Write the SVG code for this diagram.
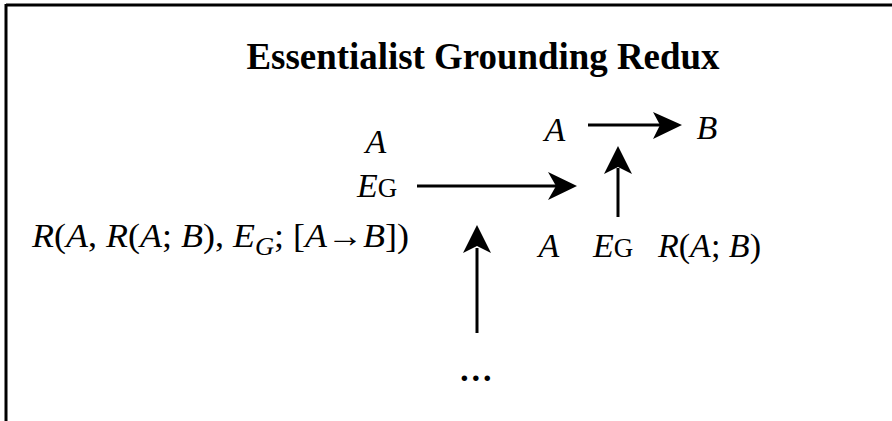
<svg xmlns="http://www.w3.org/2000/svg" width="892" height="421" viewBox="0 0 892 421">
<style>
.m{font-family:"Liberation Serif","Times New Roman",serif;font-size:34px;fill:#000}
.i{font-style:italic}
.sc{font-size:27px;font-style:normal}
.ttl{font-family:"Liberation Serif","Times New Roman",serif;font-size:38px;font-weight:bold;fill:#000}
.ln{stroke:#000;stroke-width:3;fill:none}
.hd{fill:#000}
</style>
<rect width="892" height="421" fill="#fff"/>
<g id="frame">
<line x1="6" y1="5" x2="892" y2="5" stroke="#000" stroke-width="3"/>
<line x1="6" y1="4" x2="6" y2="421" stroke="#000" stroke-width="3"/>
</g>
<g id="title">
<text class="ttl" x="483" y="69" text-anchor="middle" textLength="473" lengthAdjust="spacingAndGlyphs">Essentialist Grounding Redux</text>
</g>
<g id="node-left-A"><text class="m i" x="376" y="153" text-anchor="middle">A</text></g>
<g id="node-left-EG"><text class="m" x="357" y="197"><tspan class="i">E</tspan><tspan class="sc">G</tspan></text></g>
<g id="node-left-R">
<text class="m" x="32" y="247" font-size="35" textLength="377" lengthAdjust="spacingAndGlyphs"><tspan class="i">R</tspan>(<tspan class="i">A</tspan>, <tspan class="i">R</tspan>(<tspan class="i">A</tspan>; <tspan class="i">B</tspan>), <tspan class="i">E</tspan><tspan class="i" font-size="25" dy="8">G</tspan><tspan dy="-8">; [</tspan><tspan class="i">A</tspan>→<tspan class="i">B</tspan>])</text>
</g>
<g id="node-top-A"><text class="m i" x="555" y="141" text-anchor="middle">A</text></g>
<g id="node-top-B"><text class="m i" x="707" y="139" text-anchor="middle">B</text></g>
<g id="node-bottom-A"><text class="m i" x="549" y="257" text-anchor="middle">A</text></g>
<g id="node-bottom-EG"><text class="m" x="593" y="257"><tspan class="i">E</tspan><tspan class="sc">G</tspan></text></g>
<g id="node-bottom-R"><text class="m" x="658" y="257"><tspan class="i">R</tspan>(<tspan class="i">A</tspan>; <tspan class="i">B</tspan>)</text></g>
<g id="node-dots"><text class="m i" x="477" y="381" text-anchor="middle" font-size="28" font-weight="bold">…</text></g>
<g id="connectors">
<line class="ln" x1="417" y1="186" x2="556" y2="186"/>
<path class="hd" d="M577,186 L548,172 L556,186 L548,200 Z"/>
<line class="ln" x1="588" y1="125" x2="660" y2="125"/>
<path class="hd" d="M682,125 L653,112 L660,125 L653,139 Z"/>
<line class="ln" x1="618" y1="217" x2="618" y2="168"/>
<path class="hd" d="M618,146 L604,174 L618,167 L632,174 Z"/>
<line class="ln" x1="477" y1="333" x2="477" y2="248"/>
<path class="hd" d="M477,225 L463,253 L477,246 L491,253 Z"/>
</g>
</svg>
